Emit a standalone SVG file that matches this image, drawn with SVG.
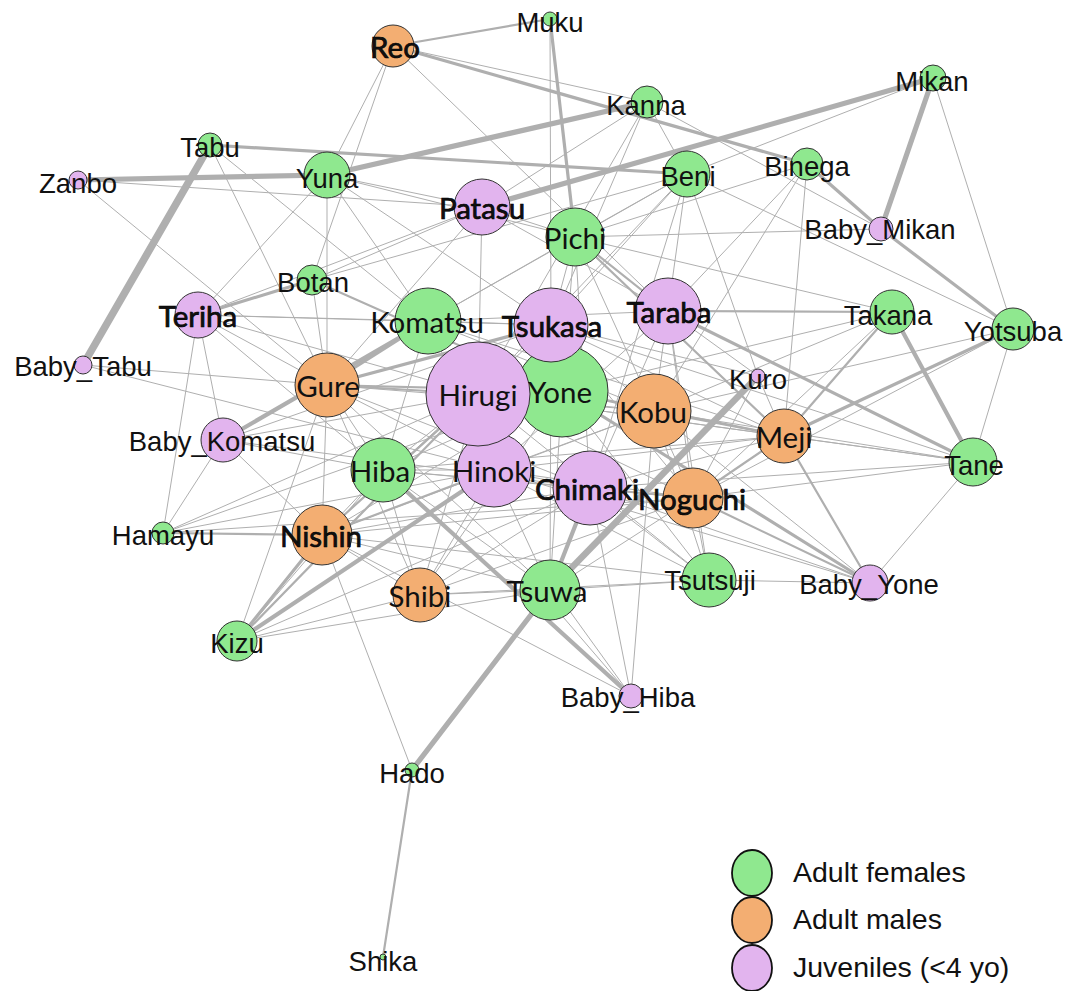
<svg xmlns="http://www.w3.org/2000/svg" width="1070" height="991" viewBox="0 0 1070 991">
<style>
.edges line{stroke:#afafaf;stroke-linecap:round;fill:none}
.w1{stroke-width:1}.w2{stroke-width:2.2}.w3{stroke-width:3.2}.w4{stroke-width:4.2}.w5{stroke-width:5.2}.w6{stroke-width:6.5}.w7{stroke-width:7.5}
.f{fill:#8fe88f}.m{fill:#f3ae72}.j{fill:#e2b4ee}
.nodes circle{stroke:#333;stroke-width:1}
.a{font-family:"Liberation Sans",Arial,sans-serif;font-size:27.5px;text-anchor:middle;fill:#111}
.c{font-family:Lato,"Liberation Sans",sans-serif;font-size:29.5px;text-anchor:middle;fill:#111}
.b{stroke:#000;stroke-width:0.7}
.lg{font-family:"Liberation Sans",Arial,sans-serif;font-size:28.5px;fill:#111}
</style>
<rect width="1070" height="991" fill="#fff"/>
<g class="edges" id="connectors">
<line class="w1" x1="393" y1="46" x2="647" y2="102"/>
<line class="w1" x1="393" y1="46" x2="327" y2="175"/>
<line class="w1" x1="393" y1="46" x2="312" y2="280"/>
<line class="w1" x1="393" y1="46" x2="668" y2="311"/>
<line class="w1" x1="550" y1="19" x2="551" y2="325"/>
<line class="w1" x1="647" y1="102" x2="687" y2="174"/>
<line class="w1" x1="647" y1="102" x2="482" y2="207"/>
<line class="w1" x1="647" y1="102" x2="551" y2="325"/>
<line class="w1" x1="647" y1="102" x2="478" y2="394"/>
<line class="w1" x1="647" y1="102" x2="881" y2="229"/>
<line class="w1" x1="933" y1="78" x2="1013" y2="329"/>
<line class="w1" x1="933" y1="78" x2="687" y2="174"/>
<line class="w1" x1="807" y1="164" x2="668" y2="311"/>
<line class="w1" x1="807" y1="164" x2="575" y2="237"/>
<line class="w1" x1="807" y1="164" x2="784" y2="436"/>
<line class="w1" x1="807" y1="164" x2="654" y2="411"/>
<line class="w1" x1="687" y1="174" x2="668" y2="311"/>
<line class="w1" x1="687" y1="174" x2="551" y2="325"/>
<line class="w1" x1="687" y1="174" x2="758" y2="376"/>
<line class="w1" x1="687" y1="174" x2="1013" y2="329"/>
<line class="w1" x1="687" y1="174" x2="478" y2="394"/>
<line class="w1" x1="687" y1="174" x2="590" y2="488"/>
<line class="w1" x1="687" y1="174" x2="428" y2="321"/>
<line class="w1" x1="687" y1="174" x2="575" y2="237"/>
<line class="w1" x1="482" y1="207" x2="575" y2="237"/>
<line class="w1" x1="482" y1="207" x2="668" y2="311"/>
<line class="w1" x1="482" y1="207" x2="478" y2="394"/>
<line class="w1" x1="482" y1="207" x2="327" y2="175"/>
<line class="w1" x1="482" y1="207" x2="198" y2="315"/>
<line class="w1" x1="482" y1="207" x2="312" y2="280"/>
<line class="w1" x1="482" y1="207" x2="327" y2="385"/>
<line class="w1" x1="482" y1="207" x2="78" y2="180"/>
<line class="w1" x1="575" y1="237" x2="551" y2="325"/>
<line class="w1" x1="575" y1="237" x2="562" y2="391"/>
<line class="w1" x1="575" y1="237" x2="590" y2="488"/>
<line class="w1" x1="575" y1="237" x2="654" y2="411"/>
<line class="w1" x1="575" y1="237" x2="892" y2="312"/>
<line class="w1" x1="575" y1="237" x2="881" y2="229"/>
<line class="w1" x1="575" y1="237" x2="428" y2="321"/>
<line class="w1" x1="575" y1="237" x2="327" y2="175"/>
<line class="w1" x1="198" y1="315" x2="428" y2="321"/>
<line class="w1" x1="198" y1="315" x2="551" y2="325"/>
<line class="w1" x1="198" y1="315" x2="327" y2="385"/>
<line class="w1" x1="198" y1="315" x2="383" y2="470"/>
<line class="w1" x1="198" y1="315" x2="163" y2="533"/>
<line class="w1" x1="198" y1="315" x2="478" y2="394"/>
<line class="w1" x1="198" y1="315" x2="327" y2="175"/>
<line class="w1" x1="198" y1="315" x2="223" y2="440"/>
<line class="w1" x1="83" y1="365" x2="327" y2="385"/>
<line class="w1" x1="83" y1="365" x2="494" y2="470"/>
<line class="w1" x1="312" y1="280" x2="327" y2="385"/>
<line class="w1" x1="312" y1="280" x2="687" y2="174"/>
<line class="w1" x1="78" y1="180" x2="327" y2="385"/>
<line class="w1" x1="210" y1="145" x2="428" y2="321"/>
<line class="w1" x1="210" y1="145" x2="327" y2="385"/>
<line class="w1" x1="327" y1="175" x2="327" y2="385"/>
<line class="w1" x1="327" y1="175" x2="428" y2="321"/>
<line class="w1" x1="327" y1="175" x2="551" y2="325"/>
<line class="w1" x1="428" y1="321" x2="551" y2="325"/>
<line class="w1" x1="428" y1="321" x2="668" y2="311"/>
<line class="w1" x1="428" y1="321" x2="383" y2="470"/>
<line class="w1" x1="428" y1="321" x2="494" y2="470"/>
<line class="w1" x1="428" y1="321" x2="654" y2="411"/>
<line class="w1" x1="428" y1="321" x2="784" y2="436"/>
<line class="w1" x1="551" y1="325" x2="494" y2="470"/>
<line class="w1" x1="551" y1="325" x2="654" y2="411"/>
<line class="w1" x1="551" y1="325" x2="693" y2="498"/>
<line class="w1" x1="551" y1="325" x2="322" y2="535"/>
<line class="w1" x1="551" y1="325" x2="550" y2="590"/>
<line class="w1" x1="551" y1="325" x2="973" y2="462"/>
<line class="w1" x1="551" y1="325" x2="784" y2="436"/>
<line class="w1" x1="551" y1="325" x2="223" y2="440"/>
<line class="w1" x1="551" y1="325" x2="758" y2="376"/>
<line class="w1" x1="668" y1="311" x2="758" y2="376"/>
<line class="w1" x1="668" y1="311" x2="654" y2="411"/>
<line class="w1" x1="668" y1="311" x2="693" y2="498"/>
<line class="w1" x1="668" y1="311" x2="590" y2="488"/>
<line class="w1" x1="668" y1="311" x2="494" y2="470"/>
<line class="w1" x1="668" y1="311" x2="709" y2="580"/>
<line class="w1" x1="892" y1="312" x2="693" y2="498"/>
<line class="w1" x1="892" y1="312" x2="654" y2="411"/>
<line class="w1" x1="892" y1="312" x2="562" y2="391"/>
<line class="w1" x1="1013" y1="329" x2="973" y2="462"/>
<line class="w1" x1="1013" y1="329" x2="654" y2="411"/>
<line class="w1" x1="1013" y1="329" x2="693" y2="498"/>
<line class="w1" x1="327" y1="385" x2="383" y2="470"/>
<line class="w1" x1="327" y1="385" x2="322" y2="535"/>
<line class="w1" x1="327" y1="385" x2="494" y2="470"/>
<line class="w1" x1="327" y1="385" x2="654" y2="411"/>
<line class="w1" x1="327" y1="385" x2="420" y2="595"/>
<line class="w1" x1="327" y1="385" x2="550" y2="590"/>
<line class="w1" x1="327" y1="385" x2="590" y2="488"/>
<line class="w1" x1="327" y1="385" x2="237" y2="641"/>
<line class="w1" x1="478" y1="394" x2="383" y2="470"/>
<line class="w1" x1="478" y1="394" x2="654" y2="411"/>
<line class="w1" x1="478" y1="394" x2="784" y2="436"/>
<line class="w1" x1="478" y1="394" x2="693" y2="498"/>
<line class="w1" x1="478" y1="394" x2="709" y2="580"/>
<line class="w1" x1="478" y1="394" x2="973" y2="462"/>
<line class="w1" x1="478" y1="394" x2="420" y2="595"/>
<line class="w1" x1="478" y1="394" x2="163" y2="533"/>
<line class="w1" x1="478" y1="394" x2="223" y2="440"/>
<line class="w1" x1="562" y1="391" x2="383" y2="470"/>
<line class="w1" x1="562" y1="391" x2="322" y2="535"/>
<line class="w1" x1="562" y1="391" x2="420" y2="595"/>
<line class="w1" x1="562" y1="391" x2="550" y2="590"/>
<line class="w1" x1="562" y1="391" x2="709" y2="580"/>
<line class="w1" x1="562" y1="391" x2="163" y2="533"/>
<line class="w1" x1="758" y1="376" x2="784" y2="436"/>
<line class="w1" x1="758" y1="376" x2="693" y2="498"/>
<line class="w1" x1="654" y1="411" x2="973" y2="462"/>
<line class="w1" x1="654" y1="411" x2="693" y2="498"/>
<line class="w1" x1="654" y1="411" x2="709" y2="580"/>
<line class="w1" x1="654" y1="411" x2="870" y2="583"/>
<line class="w1" x1="654" y1="411" x2="494" y2="470"/>
<line class="w1" x1="654" y1="411" x2="322" y2="535"/>
<line class="w1" x1="654" y1="411" x2="631" y2="696"/>
<line class="w1" x1="784" y1="436" x2="973" y2="462"/>
<line class="w1" x1="784" y1="436" x2="494" y2="470"/>
<line class="w1" x1="784" y1="436" x2="590" y2="488"/>
<line class="w1" x1="784" y1="436" x2="383" y2="470"/>
<line class="w1" x1="223" y1="440" x2="163" y2="533"/>
<line class="w1" x1="223" y1="440" x2="322" y2="535"/>
<line class="w1" x1="223" y1="440" x2="383" y2="470"/>
<line class="w1" x1="223" y1="440" x2="590" y2="488"/>
<line class="w1" x1="973" y1="462" x2="693" y2="498"/>
<line class="w1" x1="973" y1="462" x2="870" y2="583"/>
<line class="w1" x1="973" y1="462" x2="590" y2="488"/>
<line class="w1" x1="383" y1="470" x2="322" y2="535"/>
<line class="w1" x1="383" y1="470" x2="494" y2="470"/>
<line class="w1" x1="383" y1="470" x2="420" y2="595"/>
<line class="w1" x1="383" y1="470" x2="550" y2="590"/>
<line class="w1" x1="383" y1="470" x2="237" y2="641"/>
<line class="w1" x1="383" y1="470" x2="693" y2="498"/>
<line class="w1" x1="383" y1="470" x2="590" y2="488"/>
<line class="w1" x1="494" y1="470" x2="590" y2="488"/>
<line class="w1" x1="494" y1="470" x2="550" y2="590"/>
<line class="w1" x1="494" y1="470" x2="420" y2="595"/>
<line class="w1" x1="494" y1="470" x2="693" y2="498"/>
<line class="w1" x1="494" y1="470" x2="709" y2="580"/>
<line class="w1" x1="494" y1="470" x2="870" y2="583"/>
<line class="w1" x1="494" y1="470" x2="163" y2="533"/>
<line class="w1" x1="590" y1="488" x2="709" y2="580"/>
<line class="w1" x1="590" y1="488" x2="420" y2="595"/>
<line class="w1" x1="590" y1="488" x2="322" y2="535"/>
<line class="w1" x1="590" y1="488" x2="237" y2="641"/>
<line class="w1" x1="590" y1="488" x2="631" y2="696"/>
<line class="w1" x1="590" y1="488" x2="870" y2="583"/>
<line class="w1" x1="693" y1="498" x2="709" y2="580"/>
<line class="w1" x1="693" y1="498" x2="550" y2="590"/>
<line class="w1" x1="693" y1="498" x2="420" y2="595"/>
<line class="w1" x1="693" y1="498" x2="322" y2="535"/>
<line class="w1" x1="693" y1="498" x2="163" y2="533"/>
<line class="w1" x1="322" y1="535" x2="412" y2="770"/>
<line class="w1" x1="322" y1="535" x2="420" y2="595"/>
<line class="w1" x1="322" y1="535" x2="550" y2="590"/>
<line class="w1" x1="322" y1="535" x2="709" y2="580"/>
<line class="w1" x1="322" y1="535" x2="631" y2="696"/>
<line class="w1" x1="709" y1="580" x2="870" y2="583"/>
<line class="w1" x1="709" y1="580" x2="550" y2="590"/>
<line class="w1" x1="709" y1="580" x2="420" y2="595"/>
<line class="w1" x1="420" y1="595" x2="237" y2="641"/>
<line class="w1" x1="420" y1="595" x2="550" y2="590"/>
<line class="w1" x1="550" y1="590" x2="237" y2="641"/>
<line class="w1" x1="545" y1="596" x2="631" y2="696"/>
<line class="w1" x1="556" y1="592" x2="631" y2="696"/>
<line class="w7" x1="210" y1="145" x2="83" y2="365"/>
<line class="w5" x1="78" y1="180" x2="327" y2="175"/>
<line class="w5" x1="327" y1="175" x2="647" y2="102"/>
<line class="w5" x1="482" y1="207" x2="933" y2="78"/>
<line class="w5" x1="933" y1="78" x2="881" y2="229"/>
<line class="w3" x1="393" y1="46" x2="807" y2="164"/>
<line class="w2" x1="393" y1="46" x2="550" y2="19"/>
<line class="w3" x1="550" y1="19" x2="575" y2="237"/>
<line class="w3" x1="210" y1="145" x2="687" y2="174"/>
<line class="w3" x1="807" y1="164" x2="881" y2="229"/>
<line class="w3" x1="881" y1="229" x2="1013" y2="329"/>
<line class="w3" x1="198" y1="315" x2="312" y2="280"/>
<line class="w4" x1="428" y1="321" x2="223" y2="440"/>
<line class="w3" x1="327" y1="385" x2="551" y2="325"/>
<line class="w6" x1="758" y1="376" x2="550" y2="590"/>
<line class="w5" x1="550" y1="590" x2="412" y2="770"/>
<line class="w4" x1="590" y1="488" x2="550" y2="590"/>
<line class="w2" x1="412" y1="770" x2="383" y2="957"/>
<line class="w4" x1="237" y1="641" x2="494" y2="470"/>
<line class="w3" x1="237" y1="641" x2="322" y2="535"/>
<line class="w2" x1="237" y1="641" x2="478" y2="394"/>
<line class="w4" x1="383" y1="470" x2="631" y2="696"/>
<line class="w3" x1="562" y1="391" x2="870" y2="583"/>
<line class="w2" x1="693" y1="498" x2="870" y2="583"/>
<line class="w4" x1="892" y1="312" x2="973" y2="462"/>
<line class="w3" x1="668" y1="311" x2="973" y2="462"/>
<line class="w3" x1="784" y1="436" x2="1013" y2="329"/>
<line class="w2" x1="693" y1="498" x2="784" y2="436"/>
<line class="w2" x1="575" y1="237" x2="668" y2="311"/>
<line class="w2" x1="575" y1="237" x2="784" y2="436"/>
<line class="w2" x1="668" y1="311" x2="892" y2="312"/>
<line class="w2" x1="312" y1="280" x2="562" y2="391"/>
<line class="w3" x1="327" y1="385" x2="428" y2="321"/>
<line class="w2" x1="327" y1="385" x2="478" y2="394"/>
<line class="w2" x1="327" y1="385" x2="562" y2="391"/>
<line class="w2" x1="478" y1="394" x2="322" y2="535"/>
<line class="w2" x1="494" y1="470" x2="322" y2="535"/>
<line class="w2" x1="562" y1="391" x2="654" y2="411"/>
<line class="w2" x1="562" y1="391" x2="784" y2="436"/>
<line class="w2" x1="654" y1="411" x2="784" y2="436"/>
<line class="w2" x1="892" y1="312" x2="784" y2="436"/>
<line class="w2" x1="784" y1="436" x2="870" y2="583"/>
<line class="w2" x1="590" y1="488" x2="693" y2="498"/>
<line class="w2" x1="163" y1="533" x2="322" y2="535"/>
</g>
<g class="nodes">
<g id="Muku"><circle class="f" cx="550" cy="19" r="7"/></g>
<g id="Reo"><circle class="m" cx="393" cy="46" r="21"/></g>
<g id="Kanna"><circle class="f" cx="647" cy="102" r="16"/></g>
<g id="Mikan"><circle class="f" cx="933" cy="78" r="13"/></g>
<g id="Tabu"><circle class="f" cx="210" cy="145" r="12"/></g>
<g id="Zanbo"><circle class="j" cx="78" cy="180" r="9"/></g>
<g id="Yuna"><circle class="f" cx="327" cy="175" r="23"/></g>
<g id="Beni"><circle class="f" cx="687" cy="174" r="23"/></g>
<g id="Binega"><circle class="f" cx="807" cy="164" r="16"/></g>
<g id="Patasu"><circle class="j" cx="482" cy="207" r="28"/></g>
<g id="Pichi"><circle class="f" cx="575" cy="237" r="29"/></g>
<g id="Baby_Mikan"><circle class="j" cx="881" cy="229" r="12"/></g>
<g id="Botan"><circle class="f" cx="312" cy="280" r="15"/></g>
<g id="Teriha"><circle class="j" cx="198" cy="315" r="23"/></g>
<g id="Komatsu"><circle class="f" cx="428" cy="321" r="33"/></g>
<g id="Yone"><circle class="f" cx="562" cy="391" r="46"/></g>
<g id="Tsukasa"><circle class="j" cx="551" cy="325" r="37"/></g>
<g id="Taraba"><circle class="j" cx="668" cy="311" r="33"/></g>
<g id="Takana"><circle class="f" cx="892" cy="312" r="22"/></g>
<g id="Yotsuba"><circle class="f" cx="1013" cy="329" r="21"/></g>
<g id="Baby_Tabu"><circle class="j" cx="83" cy="365" r="9"/></g>
<g id="Gure"><circle class="m" cx="327" cy="385" r="32"/></g>
<g id="Hinoki"><circle class="j" cx="494" cy="470" r="37"/></g>
<g id="Hirugi"><circle class="j" cx="478" cy="394" r="52"/></g>
<g id="Kuro"><circle class="j" cx="758" cy="376" r="7"/></g>
<g id="Kobu"><circle class="m" cx="654" cy="411" r="37"/></g>
<g id="Meji"><circle class="m" cx="784" cy="436" r="27"/></g>
<g id="Baby_Komatsu"><circle class="j" cx="223" cy="440" r="22"/></g>
<g id="Tane"><circle class="f" cx="973" cy="462" r="24"/></g>
<g id="Hiba"><circle class="f" cx="383" cy="470" r="32"/></g>
<g id="Chimaki"><circle class="j" cx="590" cy="488" r="37"/></g>
<g id="Noguchi"><circle class="m" cx="693" cy="498" r="30"/></g>
<g id="Hamayu"><circle class="f" cx="163" cy="533" r="11"/></g>
<g id="Nishin"><circle class="m" cx="322" cy="535" r="30"/></g>
<g id="Tsutsuji"><circle class="f" cx="709" cy="580" r="27"/></g>
<g id="Baby_Yone"><circle class="j" cx="870" cy="583" r="18"/></g>
<g id="Shibi"><circle class="m" cx="420" cy="595" r="27"/></g>
<g id="Tsuwa"><circle class="f" cx="550" cy="590" r="30"/></g>
<g id="Kizu"><circle class="f" cx="237" cy="641" r="20"/></g>
<g id="Baby_Hiba"><circle class="j" cx="631" cy="696" r="12"/></g>
<g id="Hado"><circle class="f" cx="412" cy="770" r="7"/></g>
<g id="Shika"><circle class="f" cx="383" cy="957" r="3"/></g>
</g>
<g id="labels">
<text class="a" x="550" y="32">Muku</text>
<text class="c b" x="395" y="58">Reo</text>
<text class="a" x="646" y="115">Kanna</text>
<text class="a" x="932" y="91">Mikan</text>
<text class="a" x="210" y="157">Tabu</text>
<text class="a" x="78" y="193">Zanbo</text>
<text class="a" x="327" y="188">Yuna</text>
<text class="a" x="688" y="186">Beni</text>
<text class="a" x="807" y="176">Binega</text>
<text class="c b" x="482" y="219">Patasu</text>
<text class="c" x="575" y="249">Pichi</text>
<text class="a" x="880" y="239">Baby_Mikan</text>
<text class="a" x="313" y="292">Botan</text>
<text class="c b" x="198" y="327">Teriha</text>
<text class="c" x="427" y="333">Komatsu</text>
<text class="c b" x="552" y="337">Tsukasa</text>
<text class="c b" x="669" y="323">Taraba</text>
<text class="a" x="888" y="325">Takana</text>
<text class="a" x="1013" y="341">Yotsuba</text>
<text class="a" x="83" y="376">Baby_Tabu</text>
<text class="c" x="328" y="397">Gure</text>
<text class="c" x="478" y="406">Hirugi</text>
<text class="c" x="560" y="403">Yone</text>
<text class="a" x="758" y="389">Kuro</text>
<text class="c" x="653" y="423">Kobu</text>
<text class="c" x="784" y="448">Meji</text>
<text class="a" x="222" y="451">Baby_Komatsu</text>
<text class="a" x="974" y="475">Tane</text>
<text class="c" x="380" y="482">Hiba</text>
<text class="c" x="494" y="482">Hinoki</text>
<text class="c b" x="587" y="500">Chimaki</text>
<text class="c b" x="692" y="510">Noguchi</text>
<text class="a" x="163" y="545">Hamayu</text>
<text class="c b" x="321" y="547">Nishin</text>
<text class="a" x="710" y="590">Tsutsuji</text>
<text class="a" x="869" y="594">Baby_Yone</text>
<text class="c" x="420" y="607">Shibi</text>
<text class="c" x="547" y="602">Tsuwa</text>
<text class="a" x="237" y="653">Kizu</text>
<text class="a" x="628" y="707">Baby_Hiba</text>
<text class="a" x="412" y="783">Hado</text>
<text class="a" x="383" y="971">Shika</text>
</g>
<g id="legend">
<ellipse class="f" cx="752" cy="873" rx="20" ry="23" stroke="#111" stroke-width="1.8"/>
<ellipse class="m" cx="752" cy="920" rx="20" ry="23" stroke="#111" stroke-width="1.8"/>
<ellipse class="j" cx="752" cy="968" rx="20" ry="23" stroke="#111" stroke-width="1.8"/>
<text class="lg" x="793" y="882">Adult females</text>
<text class="lg" x="793" y="929">Adult males</text>
<text class="lg" x="793" y="977">Juveniles (&lt;4 yo)</text>
</g>
</svg>
